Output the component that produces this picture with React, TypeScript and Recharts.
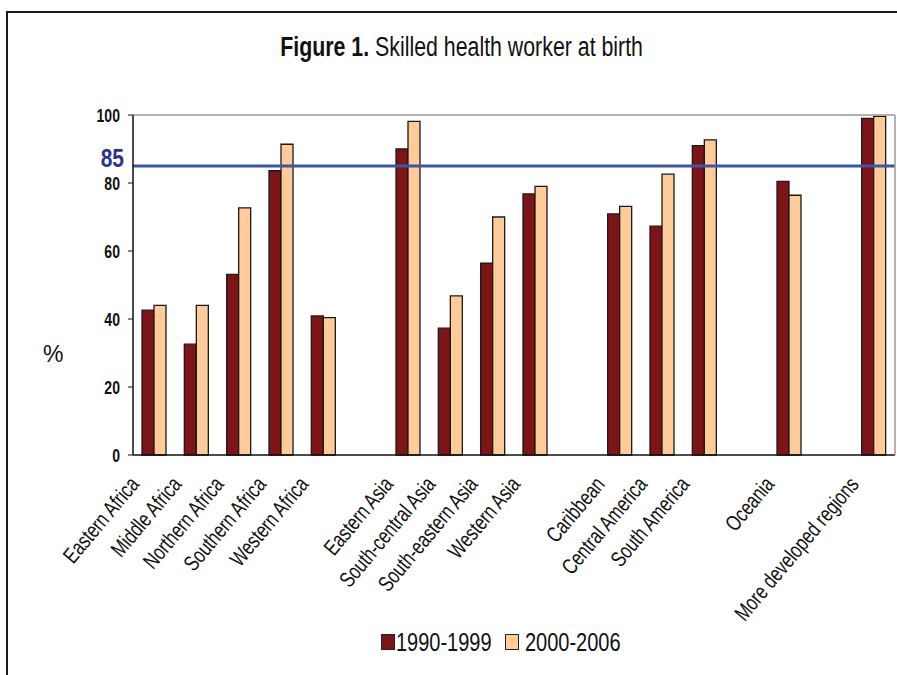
import React from 'react'
import { BarChart, Bar, XAxis, YAxis, ReferenceLine, Legend, Label } from 'recharts'

// regions, with blank slots that separate the continent groups
const regions = [
  'Eastern Africa', 'Middle Africa', 'Northern Africa', 'Southern Africa', 'Western Africa', '',
  'Eastern Asia', 'South-central Asia', 'South-eastern Asia', 'Western Asia', '',
  'Caribbean', 'Central America', 'South America', '',
  'Oceania', '',
  'More developed regions',
]
const p1990 = [42.6, 32.6, 53.1, 83.6, 40.9, null, 90.0, 37.3, 56.4, 76.8, null, 70.9, 67.3, 91.0, null, 80.5, null, 99.0]
const p2000 = [44.0, 44.0, 72.7, 91.4, 40.4, null, 98.1, 46.8, 70.0, 79.0, null, 73.1, 82.6, 92.7, null, 76.4, null, 99.6]
const yTicks = [0, 20, 40, 60, 80, 100]
const target = 85

const seriesNames = ['1990-1999', '2000-2006']
const colors = ['#7F1416', '#FFCC99']

// no condensed Helvetica here: squeeze Liberation Sans instead
const FONT = '"Liberation Sans", Arial, sans-serif'

const data = regions.map((name, i) => ({ name, a: p1990[i], b: p2000[i] }))

function RegionTick(props: any) {
  const { x, y, payload } = props
  return (
    <text
      transform={`translate(${x - 14},${y + 30}) rotate(-50) scale(0.76,1)`}
      textAnchor="end"
      fontFamily={FONT}
      fontSize={22}
      fill="#111"
    >
      {payload.value}
    </text>
  )
}

function ValueTick(props: any) {
  const { x, y, payload } = props
  return (
    <text
      transform={`translate(${x},${y}) scale(0.74,1)`}
      dy="0.36em"
      textAnchor="end"
      fontFamily={FONT}
      fontSize={19}
      fontWeight={700}
      fill="#111"
    >
      {payload.value}
    </text>
  )
}

function LegendBox() {
  const items = [{ box: 1, text: 16 }, { box: 125, text: 145 }]
  return (
    <svg width={260} height={30} style={{ display: 'block' }}>
      {seriesNames.map((s, i) => (
        <g key={s}>
          <rect x={items[i].box + 0.5} y={7.5} width={13} height={15} fill={colors[i]} stroke="#222" strokeWidth={1} />
          <text
            transform={`translate(${items[i].text},24) scale(0.8,1)`}
            fontFamily={FONT}
            fontSize={25}
            fill="#111"
          >
            {s}
          </text>
        </g>
      ))}
    </svg>
  )
}

export default function App() {
  return (
    <div style={{ position: 'absolute', left: 0, top: 0, width: 897, height: 675, background: '#fff' }}>
      <div style={{ position: 'absolute', left: 6, top: 11, width: 891, height: 664, borderLeft: '2px solid #1a1a1a', borderTop: '2px solid #1a1a1a' }} />
      <div style={{ position: 'absolute', left: 0, width: 924, top: 32, textAlign: 'center', fontFamily: FONT, fontSize: 27, color: '#111', whiteSpace: 'nowrap' }}>
        <span style={{ display: 'inline-block', transform: 'scaleX(0.79)' }}>
          <b>Figure 1.</b> Skilled health worker at birth
        </span>
      </div>
      <BarChart
        width={897}
        height={675}
        data={data}
        margin={{ top: 115, right: 1, bottom: 18, left: 0 }}
        barCategoryGap={9}
        barGap={0}
        style={{ position: 'absolute', left: 0, top: 0 }}
      >
        <XAxis
          dataKey="name"
          interval={0}
          tickSize={0}
          tickMargin={0}
          tickLine={false}
          height={172}
          axisLine={{ stroke: '#111', strokeWidth: 1.5 }}
          tick={<RegionTick />}
        />
        <YAxis
          domain={[0, 100]}
          ticks={yTicks}
          width={133}
          tickSize={5}
          tickMargin={8}
          axisLine={{ stroke: '#111', strokeWidth: 1.5 }}
          tickLine={{ stroke: '#111' }}
          tick={<ValueTick />}
        >
          <Label
            content={({ viewBox }: any) => (
              <text x={viewBox.x + 43} y={viewBox.y + 247} fontFamily={FONT} fontSize={23} fill="#111">%</text>
            )}
          />
        </YAxis>
        <YAxis yAxisId="frame" orientation="right" domain={[0, 100]} width={1} tick={false} tickLine={false} axisLine={{ stroke: '#9a9a9a', strokeWidth: 1.5 }} />
        <ReferenceLine y={100} stroke="#9a9a9a" strokeWidth={1.5} />
        <Bar dataKey="a" name={seriesNames[0]} fill={colors[0]} stroke="#1a1a1a" strokeWidth={1.3} isAnimationActive={false} />
        <Bar dataKey="b" name={seriesNames[1]} fill={colors[1]} stroke="#1a1a1a" strokeWidth={1.3} isAnimationActive={false} />
        <ReferenceLine
          y={target}
          stroke="#3A56A8"
          strokeWidth={3}
          label={({ viewBox }: any) => (
            <text
              transform={`translate(${viewBox.x - 9},${viewBox.y + 1}) scale(0.84,1)`}
              textAnchor="end"
              fontFamily={FONT}
              fontSize={25}
              fontWeight={700}
              fill="#2E3192"
            >
              {target}
            </text>
          )}
        />
        <Legend
          verticalAlign="bottom"
          content={() => <LegendBox />}
          wrapperStyle={{ left: 380, width: 260, height: 30 }}
        />
      </BarChart>
    </div>
  )
}
